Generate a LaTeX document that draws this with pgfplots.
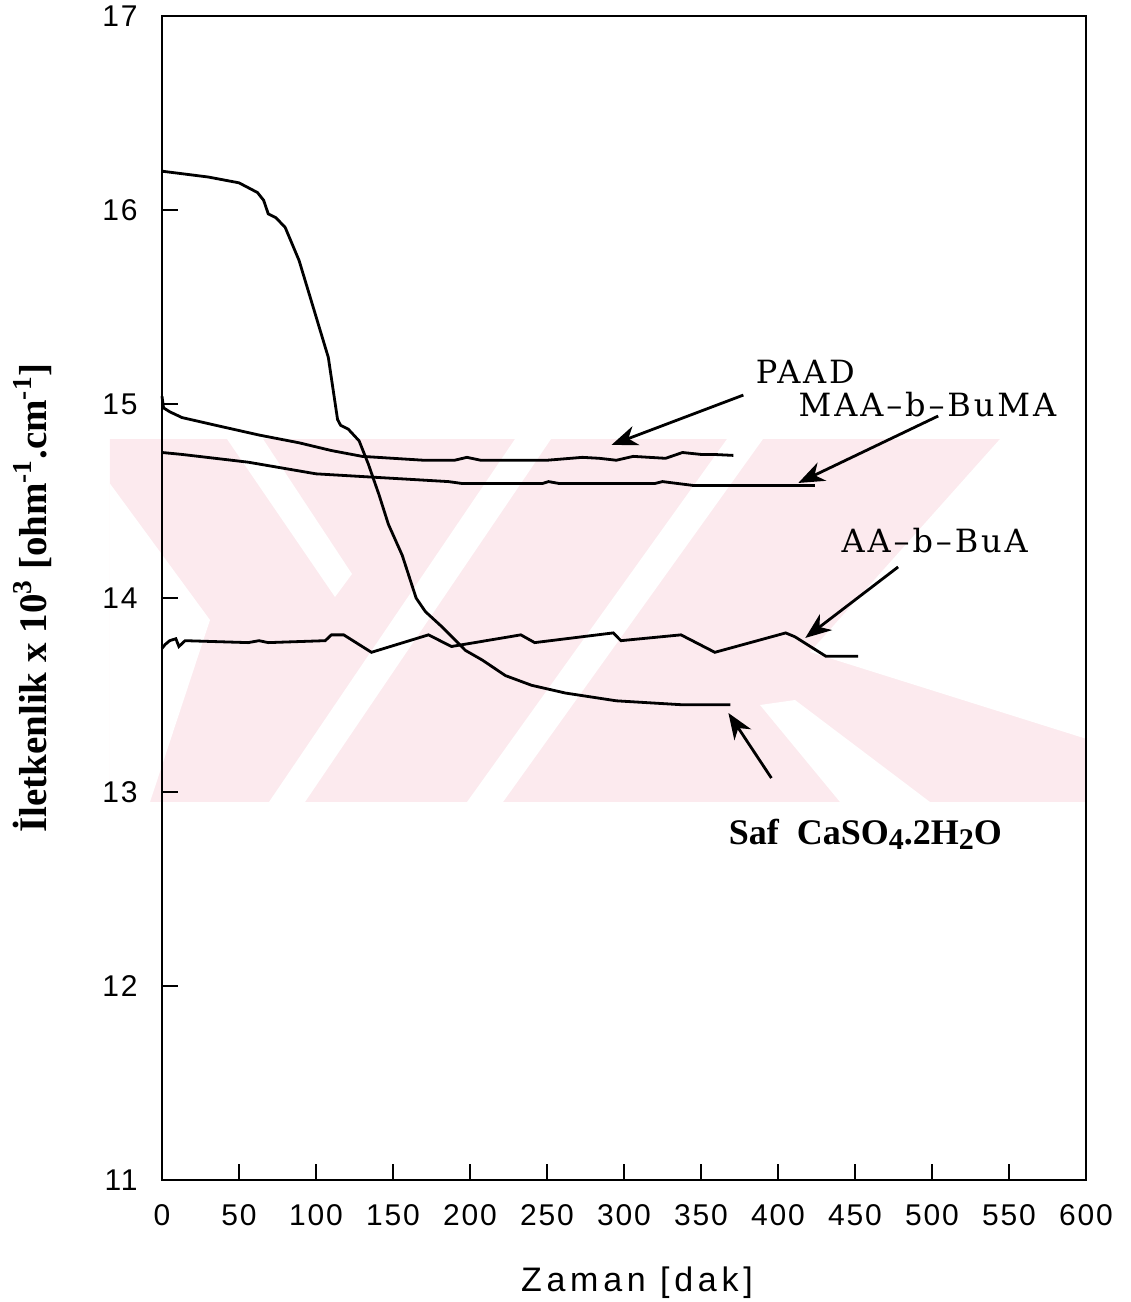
\documentclass[border=0pt]{standalone}
\usepackage{pgfplots}
\pgfplotsset{compat=1.18}
\usepackage{fontspec}
\setmainfont{Liberation Serif}
\newfontfamily\ticksf[LetterSpace=6]{Liberation Sans}
\newfontfamily\labsf[LetterSpace=14]{Liberation Sans}
\newfontfamily\plotter[LetterSpace=9]{DejaVu Serif}
\usetikzlibrary{arrows.meta}
\pgfdeclarelayer{background}
\pgfsetlayers{background,main}
\definecolor{wm}{RGB}{252,234,238}

\pgfplotstableread{
x y
0 16.20
10 16.19
30 16.17
50 16.14
62 16.09
66 16.05
69 15.98
74 15.96
80 15.91
89 15.74
97 15.53
108 15.24
114 14.92
116 14.89
121 14.87
128 14.81
134 14.69
141 14.53
147 14.38
156 14.22
165 14.00
171 13.93
182 13.85
197 13.73
208 13.68
223 13.60
240 13.55
262 13.51
295 13.47
316 13.46
337 13.45
369 13.45
}\saf

\pgfplotstableread{
x y
0 15.04
1 14.98
5 14.96
13 14.93
35 14.89
63 14.84
89 14.80
110 14.76
130 14.73
150 14.72
170 14.71
190 14.71
198 14.725
207 14.71
250 14.71
273 14.725
284 14.72
295 14.71
306 14.73
327 14.72
338 14.75
350 14.74
358 14.74
371 14.735
}\paad

\pgfplotstableread{
x y
0 14.75
13 14.74
56 14.70
100 14.64
143 14.62
186 14.60
195 14.59
247 14.59
251 14.60
258 14.59
320 14.59
325 14.60
345 14.58
385 14.58
424 14.58
}\maa

\pgfplotstableread{
x y
0 13.74
2 13.76
5 13.78
9 13.79
11 13.75
15 13.78
56 13.77
63 13.78
69 13.77
106 13.78
110 13.81
118 13.81
136 13.72
173 13.81
188 13.75
233 13.81
242 13.77
293 13.82
298 13.78
337 13.81
359 13.72
405 13.82
411 13.80
431 13.70
452 13.70
}\aab

\begin{document}
\begin{tikzpicture}
\begin{axis}[
  scale only axis, width=462pt, height=582pt,
  xmin=0, xmax=600, ymin=11, ymax=17,
  xtick={0,50,...,600}, ytick={11,12,...,17},
  tick pos=left, tick align=inside, major tick length=8pt,
  axis line style={line width=1.4pt},
  every tick/.style={line width=1.2pt, black},
  /pgf/number format/assume math mode=true,
  ticklabel style={font=\fontsize{15}{15}\selectfont\ticksf, inner sep=0pt},
  xticklabel style={yshift=-12pt},
  yticklabel style={xshift=-12pt},
  xlabel={Zaman [dak]},
  xlabel style={font=\fontsize{17}{17}\selectfont\labsf, at={(axis description cs:0.514,-0.0962)}, anchor=base},
  ylabel={İletkenlik x 10\textsuperscript{3} [ohm\textsuperscript{-1}.cm\textsuperscript{-1}]},
  ylabel style={font=\fontsize{19.5}{19.5}\selectfont\bfseries, at={(axis description cs:-0.1245,0.5)}, anchor=base},
  clip=false,
]
\addplot[black, line width=1.4pt] table {\saf};
\addplot[black, line width=1.4pt] table {\paad};
\addplot[black, line width=1.4pt] table {\maa};
\addplot[black, line width=1.4pt] table {\aab};

\node[anchor=base west, inner sep=0pt, font=\fontsize{16}{16}\selectfont\plotter] at (axis cs:385.3,15.108) {PAAD};
\node[anchor=base west, inner sep=0pt, font=\fontsize{16}{16}\selectfont\plotter] at (axis cs:413.2,14.938) {MAA–b–BuMA};
\node[anchor=base west, inner sep=0pt, font=\fontsize{16}{16}\selectfont\plotter] at (axis cs:441.1,14.237) {AA–b–BuA};
\node[anchor=base west, inner sep=0pt, font=\fontsize{18}{18}\selectfont\bfseries] at (axis cs:367.8,12.727) {Saf\ \ CaSO\raisebox{-0.3ex}{\fontsize{15}{15}\selectfont 4}.2H\raisebox{-0.3ex}{\fontsize{15}{15}\selectfont 2}O};

\draw[line width=1.4pt, -{Stealth[length=13pt, width=10pt, inset=4pt]}] (axis cs:377.5,15.046) -- (axis cs:291.9,14.789);
\draw[line width=1.4pt, -{Stealth[length=13pt, width=10pt, inset=4pt]}] (axis cs:504.0,14.938) -- (axis cs:413.2,14.593);
\draw[line width=1.4pt, -{Stealth[length=13pt, width=10pt, inset=4pt]}] (axis cs:478.0,14.160) -- (axis cs:417.7,13.794);
\draw[line width=1.4pt, -{Stealth[length=13pt, width=10pt, inset=4pt]}] (axis cs:395.7,13.072) -- (axis cs:367.8,13.407);
\end{axis}
% faint background watermark of the scanned page (pixel units)
\begin{pgfonlayer}{background}
\begin{scope}[shift={([shift={(-81pt,8pt)}]current axis.north west)}, x=0.5pt, y=-0.5pt]
  \begin{scope}
    \clip (110,439) rectangle (1085,802);
    \fill[wm] (100,439) rectangle (1090,802);
    \fill[white] (227,439) -- (263,439) -- (352,574) -- (335,597) -- cycle;
    \fill[white] (269,802) -- (305,802) -- (551,439) -- (515,439) -- cycle;
    \fill[white] (467,802) -- (503,802) -- (763,439) -- (727,439) -- cycle;
    \fill[white] (100,470) -- (210,620) -- (150,802) -- (100,802) -- cycle;
    \fill[white] (810,652) -- (1000,439) -- (1090,439) -- (1090,740) -- cycle;
    \fill[white] (760,705) -- (795,700) -- (930,802) -- (840,802) -- cycle;
  \end{scope}
\end{scope}
\end{pgfonlayer}
\pgfresetboundingbox
\path[use as bounding box] ([shift={(-81pt,-61pt)}]current axis.south west) rectangle ([shift={(22.5pt,8pt)}]current axis.north east);
\end{tikzpicture}
\end{document}
